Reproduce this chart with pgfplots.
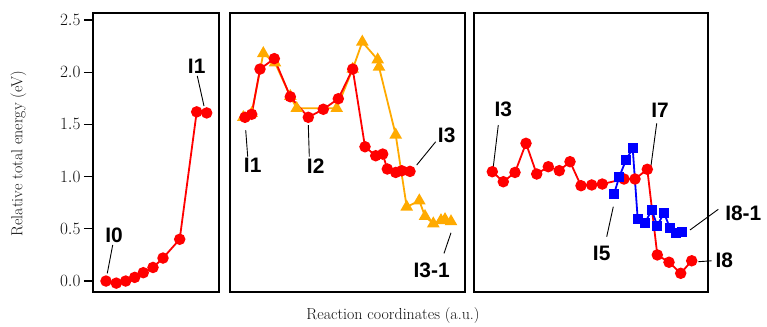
\documentclass[border=0pt]{standalone}
\usepackage{pgfplots}
\pgfplotsset{compat=1.18}
\usepackage{fontspec}
\newfontfamily\lblfont{Liberation Sans}
\definecolor{myred}{RGB}{255,0,0}
\definecolor{myorange}{RGB}{255,170,0}
\definecolor{myblue}{RGB}{0,0,255}
\definecolor{txtgray}{RGB}{15,15,15}
\pgfplotsset{
  panel/.style={scale only axis, height=279bp, ymin=-0.105, ymax=2.567,
    xtick=\empty, axis line style={line width=1.5bp}, clip=false, anchor=south west},
  redser/.style={myred, line width=1.8bp, mark=*, mark size=4.8bp, mark options={solid, fill=myred, draw=myred}},
  orser/.style={myorange, line width=1.8bp, mark=triangle*, mark size=5.5bp, mark options={solid, fill=myorange, draw=myorange}},
  blser/.style={myblue, line width=1.8bp, mark=square*, mark size=4.2bp, mark options={solid, fill=myblue, draw=myblue}},
}
\tikzset{lbl/.style={font=\lblfont\bfseries\fontsize{21}{21}\selectfont, inner sep=0pt},
  lead/.style={black, line width=0.9bp}}
\begin{document}
\begin{tikzpicture}
\useasboundingbox (0,0) rectangle (767bp,327bp);
% Panel 1
\begin{axis}[panel, at={(93bp,35bp)}, width=126bp, xmin=0, xmax=126,
  ytick={0,0.5,1,1.5,2,2.5}, ytick pos=left, tick align=outside,
  major tick length=9bp, tick style={line width=1.2bp, black},
  yticklabel style={font=\fontsize{16}{16}\selectfont, text=txtgray},
  /pgf/number format/.cd, fixed, fixed zerofill, precision=1]
\addplot[redser] coordinates {(13,0) (23.3,-0.02) (32.7,0.0) (41.7,0.035) (50.3,0.08) (60,0.13) (70,0.22) (86.7,0.40) (103.7,1.62) (113.7,1.61)};
\draw[lead] (axis cs:14.3,0.074) -- (axis cs:19.7,0.345);
\node[lbl] at (axis cs:21,0.44) {I0};
\draw[lead] (axis cs:104.3,1.964) -- (axis cs:111,1.676);
\node[lbl] at (axis cs:103.7,2.06) {I1};
\end{axis}
% Panel 2
\begin{axis}[panel, at={(230bp,35bp)}, width=235bp, xmin=0, xmax=235, ytick=\empty]
\addplot[orser] coordinates {(13.3,1.568) (21.7,1.606) (33.3,2.18) (45,2.09) (60.3,1.77) (66.7,1.654) (106.7,1.654) (122.7,2.03) (132.3,2.29) (147.7,2.12) (149,2.05) (165.7,1.40) (176.7,0.71) (189.3,0.77) (195,0.62) (203.3,0.55) (211,0.58) (215,0.59) (221,0.57)};
\addplot[redser] coordinates {(15,1.568) (21.7,1.597) (30,2.03) (44.3,2.13) (60.3,1.765) (78.3,1.568) (93.3,1.645) (108.3,1.746) (122.7,2.03) (135,1.286) (145.7,1.20) (152.7,1.216) (157.3,1.073) (165.7,1.04) (171.7,1.056) (180,1.05)};
\draw[lead] (axis cs:15.7,1.446) -- (axis cs:17.7,1.191);
\node[lbl] at (axis cs:22.7,1.104) {I1};
\draw[lead] (axis cs:78.3,1.494) -- (axis cs:79.3,1.191);
\node[lbl] at (axis cs:85.7,1.104) {I2};
\draw[lead] (axis cs:186.7,1.111) -- (axis cs:205.7,1.334);
\node[lbl] at (axis cs:216.7,1.40) {I3};
\draw[lead] (axis cs:214,0.265) -- (axis cs:221,0.462);
\node[lbl] at (axis cs:201.7,0.10) {I3-1};
\end{axis}
% Panel 3
\begin{axis}[panel, at={(474bp,35bp)}, width=234bp, xmin=0, xmax=234, ytick=\empty]
\addplot[redser] coordinates {(18.3,1.047) (29.3,0.951) (41,1.04) (52,1.319) (62.7,1.025) (74.3,1.095) (85.3,1.057) (96,1.143) (107,0.913) (117.7,0.92) (128.3,0.929) (150,0.977) (161,0.977) (173.3,1.07) (183.3,0.25) (195,0.18) (206.7,0.074) (217.7,0.194)};
\addplot[blser] coordinates {(140,0.833) (145.3,0.999) (152,1.159) (158.7,1.271) (163.7,0.594) (171,0.558) (177.7,0.68) (183.3,0.53) (190,0.654) (196,0.505) (201.7,0.457) (208.3,0.472)};
\draw[lead] (axis cs:19.3,1.095) -- (axis cs:24.3,1.494);
\node[lbl] at (axis cs:29.3,1.645) {I3};
\draw[lead] (axis cs:132.7,0.424) -- (axis cs:139.3,0.712);
\node[lbl] at (axis cs:127.7,0.265) {I5};
\draw[lead] (axis cs:177,1.105) -- (axis cs:182.7,1.51);
\node[lbl] at (axis cs:186,1.638) {I7};
\draw[lead] (axis cs:216,0.489) -- (axis cs:244.3,0.687);
\node[lbl] at (axis cs:269.3,0.648) {I8-1};
\draw[lead] (axis cs:224.3,0.185) -- (axis cs:237.7,0.194);
\node[lbl] at (axis cs:250.3,0.201) {I8};
\end{axis}
\node[rotate=90, text=txtgray, font=\fontsize{16}{16}\selectfont] at (18.5bp,173.5bp) {Relative total energy (eV)};
\node[text=txtgray, font=\fontsize{16}{16}\selectfont] at (393bp,11bp) {Reaction coordinates (a.u.)};
\end{tikzpicture}
\end{document}
